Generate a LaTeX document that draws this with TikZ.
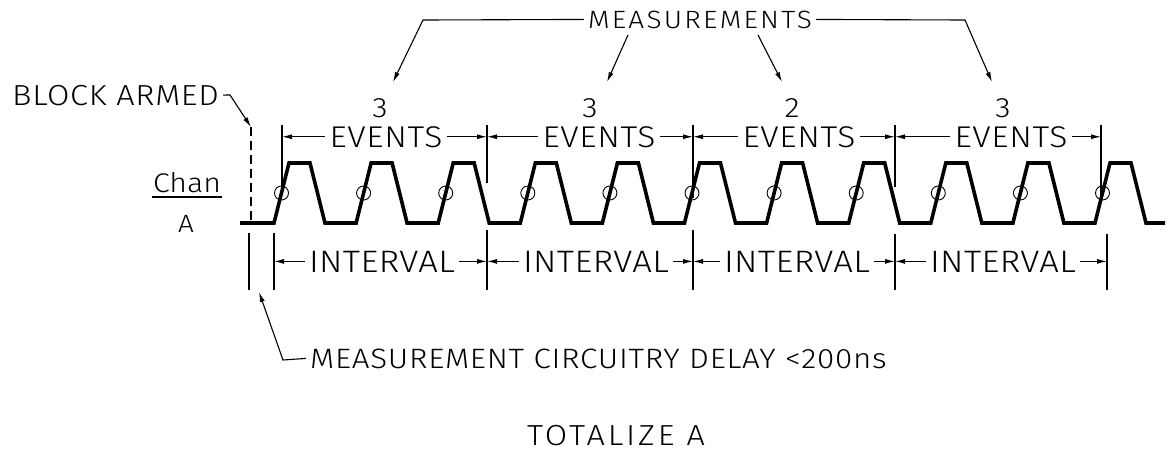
\documentclass[tikz,border=0pt]{standalone}
\usepackage{fontspec}
\newfontfamily\cad[FakeStretch=1.12]{Fira Sans Light}
\usetikzlibrary{arrows.meta,calc}
\tikzset{
  thinline/.style={line width=1.1pt},
  tip/.style={thinline,-{Latex[length=10pt,width=5pt]}},
  wave/.style={line width=3.6pt,line join=miter},
  lbl/.style 2 args={inner xsep=4pt,inner ysep=0pt,anchor=base,
    font=\cad\fontsize{#1}{#1}\selectfont\addfontfeatures{LetterSpace=#2}},
}
\begin{document}
\begin{tikzpicture}[x=1pt,y=-1pt]
\useasboundingbox (0,0) rectangle (1172,451);

% ---- texts ----
\node[lbl={29}{2.5},anchor=base west] (ba) at (8,105) {BLOCK ARMED};
\node[lbl={25}{9}] (m) at (700,28) {MEASUREMENTS};
\node[lbl={28}{0}] (n1) at (380,117) {3};
\node[lbl={28}{0}] (n2) at (590,117) {3};
\node[lbl={28}{0}] (n3) at (792,117) {2};
\node[lbl={28}{0}] (n4) at (1003,117) {3};
\node[lbl={30}{2.3}] (e1) at (386,147) {EVENTS};
\node[lbl={30}{2.3}] (e2) at (599,147) {EVENTS};
\node[lbl={30}{2.3}] (e3) at (799,147) {EVENTS};
\node[lbl={30}{2.3}] (e4) at (1011,147) {EVENTS};
\node[lbl={27}{0}] (chan) at (187,192) {Chan};
\node[lbl={25}{0}] (cha) at (186,232) {A};
\node[lbl={31}{1.3}] (i1) at (382,272) {INTERVAL};
\node[lbl={31}{1.3}] (i2) at (596,272) {INTERVAL};
\node[lbl={31}{1.3}] (i3) at (797,272) {INTERVAL};
\node[lbl={31}{1.3}] (i4) at (1003,272) {INTERVAL};
\node[lbl={28}{2.6},anchor=base west] (md) at (306,368) {MEASUREMENT CIRCUITRY DELAY <200ns};
\node[lbl={29}{10}] (tot) at (616,445) {TOTALIZE A};

% Chan underline
\coordinate (ul1) at (152,197);
\coordinate (ul2) at (222,197);
\draw[thinline] (ul1) -- (ul2);

% ---- waveform ----
\draw[wave] (240,223) foreach \k in {0,...,10} {
  -- ({274+82.1*\k},223) -- ({289+82.1*\k},163) -- ({310+82.1*\k},163) -- ({325+82.1*\k},223)
} -- (1165,223);
\foreach \k in {0,...,10}
  \draw[line width=0.9pt] ({281.5+82.1*\k},193) circle[radius=7pt];

% ---- block armed ----
\coordinate (bak) at (230,95);
\coordinate (bat) at (251,127);
\coordinate (bad) at (251,220);
\draw[tip] (ba.east) -- (bak) -- (bat);
\draw[thinline,dash pattern=on 9pt off 5pt] (bat) -- (bad);

% ---- measurements leaders ----
\coordinate (mk1) at (423,20);
\coordinate (mt1) at (393,82);
\coordinate (ms2) at (628,35);
\coordinate (mt2) at (607,82);
\coordinate (ms3) at (758,35);
\coordinate (mt3) at (782,82);
\coordinate (mk4) at (965,20);
\coordinate (mt4) at (992,82);
\draw[tip] (m.west) -- (mk1) -- (mt1);
\draw[tip] (ms2) -- (mt2);
\draw[tip] (ms3) -- (mt3);
\draw[tip] (m.east) -- (mk4) -- (mt4);

% ---- event boundaries ----
\foreach \n/\x/\yb in {1/282/192, 2/487/183, 3/693/198, 4/895/187, 5/1101/198} {
  \coordinate (eb\n) at (\x,125);
  \coordinate (ee\n) at (\x,\yb);
  \draw[thinline] (eb\n) -- (ee\n);
}
\draw[tip] (e1.west) -- (e1.west -| eb1);
\draw[tip] (e1.east) -- (e1.east -| eb2);
\draw[tip] (e2.west) -- (e2.west -| eb2);
\draw[tip] (e2.east) -- (e2.east -| eb3);
\draw[tip] (e3.west) -- (e3.west -| eb3);
\draw[tip] (e3.east) -- (e3.east -| eb4);
\draw[tip] (e4.west) -- (e4.west -| eb4);
\draw[tip] (e4.east) -- (e4.east -| eb5);

% ---- interval boundaries ----
\foreach \n/\x/\ya in {0/249/233, 1/274/233, 2/487/230, 3/693/230, 4/895/234, 5/1107/234} {
  \coordinate (ib\n) at (\x,\ya);
  \coordinate (ie\n) at (\x,290);
  \draw[thinline] (ib\n) -- (ie\n);
}
\draw[tip] (i1.west) -- (i1.west -| ib1);
\draw[tip] (i1.east) -- (i1.east -| ib2);
\draw[tip] (i2.west) -- (i2.west -| ib2);
\draw[tip] (i2.east) -- (i2.east -| ib3);
\draw[tip] (i3.west) -- (i3.west -| ib3);
\draw[tip] (i3.east) -- (i3.east -| ib4);
\draw[tip] (i4.west) -- (i4.west -| ib4);
\draw[tip] (i4.east) -- (i4.east -| ib5);

% ---- circuitry delay leader ----
\coordinate (dk) at (283,360);
\coordinate (dt) at (259,292);
\draw[tip] (md.west) -- (dk) -- (dt);
\end{tikzpicture}
\end{document}
